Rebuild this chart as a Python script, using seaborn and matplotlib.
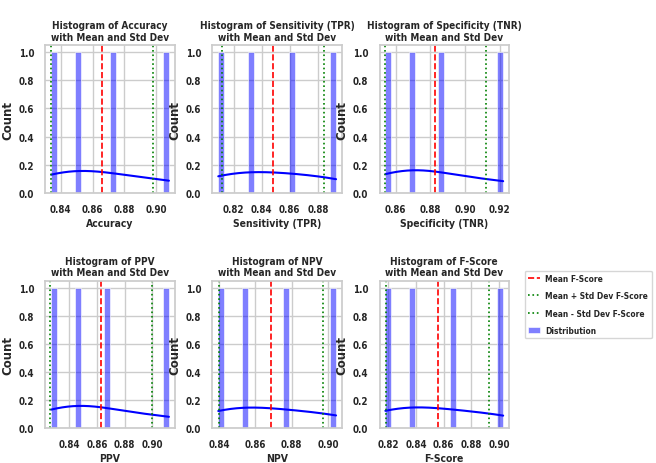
import numpy as np
import pandas as pd
import seaborn as sns
import matplotlib
matplotlib.use("Agg")
import matplotlib.pyplot as plt
from matplotlib.ticker import MultipleLocator

# Per-fold scores
accuracy = [0.834, 0.850, 0.872, 0.908]
sensitivity = [0.809, 0.831, 0.860, 0.893]
specificity = [0.854, 0.869, 0.886, 0.922]
ppv = [0.827, 0.845, 0.867, 0.912]
npv = [0.8395, 0.8535, 0.877, 0.9045]
f_score = [0.818, 0.836, 0.866, 0.903]

metric_names = ["Accuracy", "Sensitivity (TPR)", "Specificity (TNR)", "PPV", "NPV", "F-Score"]
metrics = pd.DataFrame({
    "Accuracy": accuracy,
    "Sensitivity (TPR)": sensitivity,
    "Specificity (TNR)": specificity,
    "PPV": ppv,
    "NPV": npv,
    "F-Score": f_score,
})

sns.set_theme(style="whitegrid")
plt.rcParams["font.family"] = ["DejaVu Sans"]
plt.rcParams["font.stretch"] = "condensed"
plt.rcParams["font.weight"] = "bold"
plt.rcParams["axes.titleweight"] = "bold"
plt.rcParams["axes.labelweight"] = "bold"

fig, axes = plt.subplots(2, 3, figsize=(6.56, 4.64), dpi=100)
fig.subplots_adjust(left=0.069, right=0.776, top=0.90, bottom=0.075, wspace=0.29, hspace=0.6)

for ax, name in zip(axes.flat, metric_names):
    vals = metrics[name]
    mean = vals.mean()
    std = vals.std()
    sns.histplot(vals, bins=20, kde=True, color="blue", alpha=0.5, label="Distribution", ax=ax)
    ax.axvline(mean, color="red", linestyle="--", linewidth=1.2, label=f"Mean {name}")
    ax.axvline(mean + std, color="green", linestyle=":", linewidth=1.2, label=f"Mean + Std Dev {name}")
    ax.axvline(mean - std, color="green", linestyle=":", linewidth=1.2, label=f"Mean - Std Dev {name}")
    ax.xaxis.set_major_locator(MultipleLocator(0.02))
    ax.set_title(f"Histogram of {name}\nwith Mean and Std Dev", fontsize=7.2, pad=4)
    ax.set_xlabel(name, fontsize=7.5, labelpad=3)
    ax.set_ylabel("Count", fontsize=8.5, labelpad=3, fontstretch="normal")
    ax.tick_params(labelsize=7, pad=2)

axes[1, 2].legend(loc="upper left", bbox_to_anchor=(1.12, 1.07), borderaxespad=0,
                  fontsize=6, handlelength=1.5, handletextpad=0.6, labelspacing=1.0)

plt.savefig("out.png", dpi=100)
